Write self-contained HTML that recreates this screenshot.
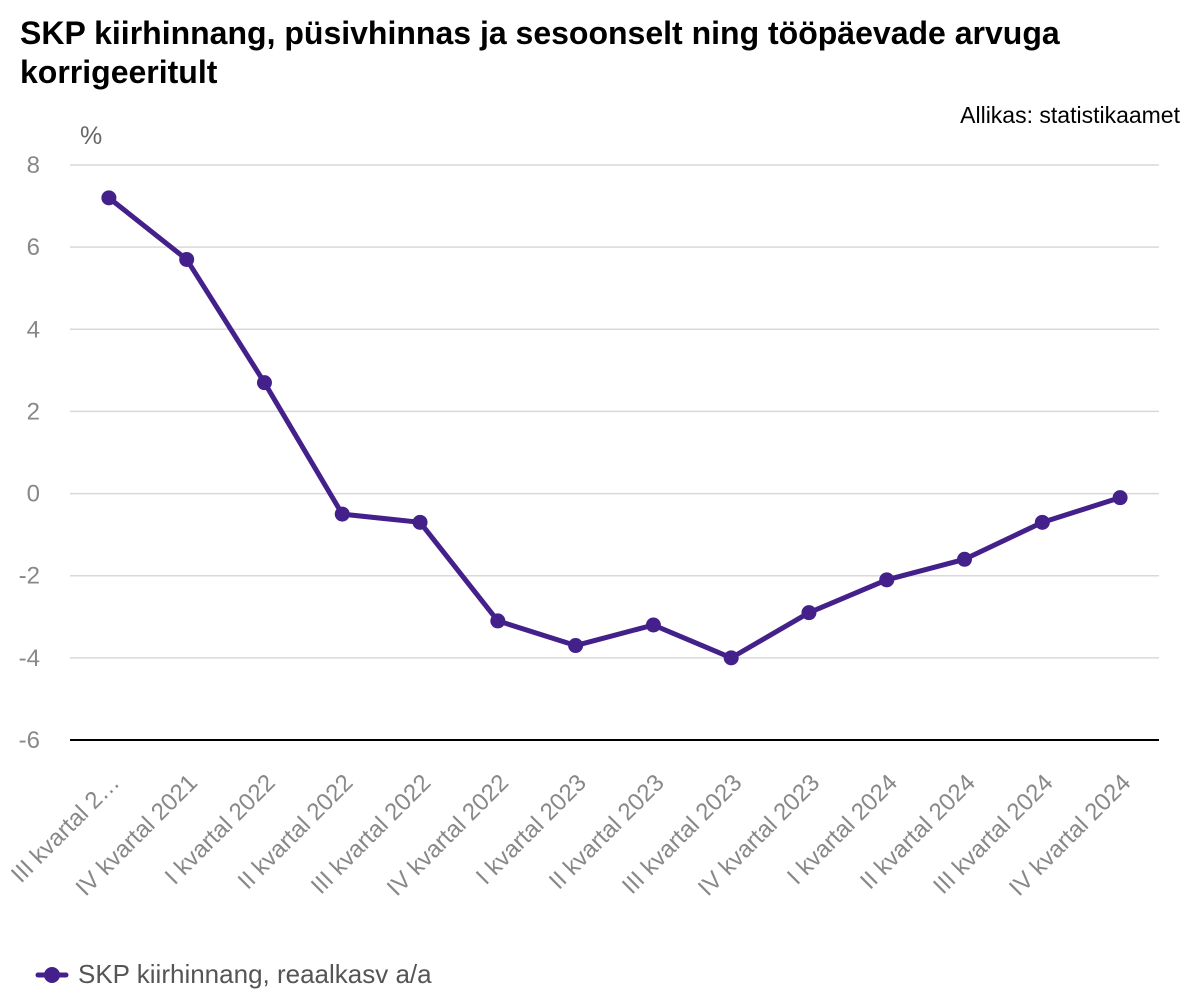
<!DOCTYPE html>
<html><head><meta charset="utf-8"><style>
body{margin:0;background:#fff;font-family:"Liberation Sans",sans-serif;}
svg text{font-family:"Liberation Sans",sans-serif;}
</style></head><body>
<svg id="chart" width="1200" height="1000" xmlns="http://www.w3.org/2000/svg">
<text x="20" y="44" font-size="32" font-weight="bold" fill="#000">SKP kiirhinnang, püsivhinnas ja sesoonselt ning tööpäevade arvuga</text>
<text x="20" y="83" font-size="32" font-weight="bold" fill="#000">korrigeeritult</text>
<text x="1180" y="123" font-size="23" text-anchor="end" fill="#000">Allikas: statistikaamet</text>
<text x="80" y="144" font-size="25" fill="#666">%</text>
<g id="grid"></g><g id="xlabels"></g><g id="series"></g>
<g>
<line x1="38" y1="975" x2="66" y2="975" stroke="#44208a" stroke-width="5" stroke-linecap="round"/>
<circle cx="52" cy="975" r="8" fill="#44208a"/>
<text x="78" y="983" font-size="26" fill="#555">SKP kiirhinnang, reaalkasv a/a</text>
</g>
</svg>
<script>
const categories=["III kvartal 2021","IV kvartal 2021","I kvartal 2022","II kvartal 2022","III kvartal 2022","IV kvartal 2022","I kvartal 2023","II kvartal 2023","III kvartal 2023","IV kvartal 2023","I kvartal 2024","II kvartal 2024","III kvartal 2024","IV kvartal 2024"];
const values=[7.2,5.7,2.7,-0.5,-0.7,-3.1,-3.7,-3.2,-4.0,-2.9,-2.1,-1.6,-0.7,-0.1];
const yTicks=[8,6,4,2,0,-2,-4,-6];
const NS="http://www.w3.org/2000/svg";
const x0=70,x1=1159,yTop=165,yBot=740,yMax=8,yMin=-6;
const step=(x1-x0)/categories.length;
const xS=i=>x0+step*(i+0.5);
const yS=v=>yTop+(yMax-v)/(yMax-yMin)*(yBot-yTop);
function mk(t,a,p){const e=document.createElementNS(NS,t);for(const k in a)e.setAttribute(k,a[k]);p.appendChild(e);return e;}
const grid=document.getElementById('grid');
yTicks.forEach(t=>{
 const l=mk('line',{x1:x0,x2:x1,y1:yS(t),y2:yS(t),stroke:t===yMin?'#000':'#d9d9d9','stroke-width':t===yMin?2:1.5},grid);
 
 
 const tx=mk('text',{x:40,y:yS(t)+8,'font-size':24,'text-anchor':'end',fill:'#888'},grid);
 tx.textContent=t;
 
 
});
const xl=document.getElementById('xlabels');
categories.forEach((c,i)=>{
 const ax=xS(i)+12,ay=784;
 const tx=mk('text',{x:ax,y:ay,'font-size':24,'text-anchor':'end',fill:'#888',transform:`rotate(-45 ${ax} ${ay})`},xl);
 tx.textContent=i===0?"III kvartal 2…":c;
 
 
});
const s=document.getElementById('series');
const pl=mk('polyline',{points:values.map((v,i)=>xS(i)+','+yS(v)).join(' '),fill:'none',stroke:'#44208a','stroke-width':5,'stroke-linejoin':'round'},s);


values.forEach((v,i)=>{
 const c=mk('circle',{cx:xS(i),cy:yS(v),r:7.5,fill:'#44208a'},s);
 
 
});
</script>
</body></html>
